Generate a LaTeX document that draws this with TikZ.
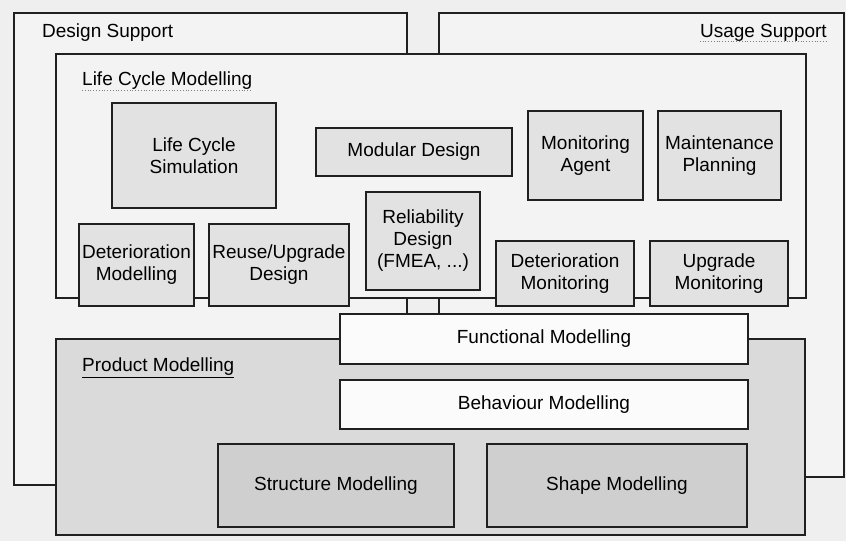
\documentclass[tikz,border=0pt]{standalone}
\usepackage{fontspec}
\setmainfont{Liberation Sans}
\definecolor{pagebg}{HTML}{EFEFEF}
\definecolor{outerbg}{HTML}{F3F3F3}
\definecolor{innerbox}{HTML}{E2E2E2}
\definecolor{prodbg}{HTML}{DADADA}
\definecolor{darkbox}{HTML}{CFCFCF}
\definecolor{whitebox}{HTML}{FBFBFB}
\definecolor{edge}{HTML}{202020}
\begin{document}
\begin{tikzpicture}[x=1pt,y=-1pt,
  every node/.style={font=\fontsize{19}{22}\selectfont, text=black},
  bx/.style={draw=edge, line width=1.3pt, inner sep=0pt, align=center},
  outer/.style={bx, fill=outerbg},
  inbox/.style={bx, fill=innerbox},
  prod/.style={bx, fill=prodbg},
  dbox/.style={bx, fill=darkbox},
  wbox/.style={bx, fill=whitebox},
  lbl/.style={inner sep=0pt},
  uline/.style={draw=gray, line width=0.8pt, dotted}
]
\useasboundingbox (0,0) rectangle (846,541);
\fill[pagebg] (0,0) rectangle (846,541);

% outer frames
\node[outer, minimum width=393pt, minimum height=472pt] (ds) at (210.5,249) {};
\node[outer, minimum width=405pt, minimum height=464pt] (us) at (641.5,245) {};
\node[lbl, anchor=west] (dsl) at (42,33) {Design Support};
\node[lbl, anchor=east] (usl) at (827,33) {Usage Support};
\draw[uline] ([yshift=-4pt]usl.base west) -- ([yshift=-4pt]usl.base east);

% life cycle modelling
\node[outer, minimum width=750pt, minimum height=244pt] (lcm) at (431,176) {};
\node[lbl, anchor=west] (lcml) at (82,81) {Life Cycle Modelling};
\draw[uline] ([yshift=-4pt]lcml.base west) -- ([yshift=-4pt]lcml.base east);

\node[inbox, minimum width=164pt, minimum height=105pt] (lcs) at (194,155.5) {Life Cycle\\Simulation};
\node[inbox, minimum width=196pt, minimum height=48pt] (md) at (414,152) {Modular Design};
\node[inbox, minimum width=114pt, minimum height=98pt] (rd) at (423,241) {Reliability\\Design\\(FMEA, ...)};
\node[inbox, minimum width=115pt, minimum height=82pt] (dm) at (136.5,265) {Deterioration\\Modelling};
\node[inbox, minimum width=140pt, minimum height=82pt] (rud) at (279,265) {Reuse/Upgrade\\Design};
\node[inbox, minimum width=115pt, minimum height=89pt] (ma) at (585.5,155.5) {Monitoring\\Agent};
\node[inbox, minimum width=123pt, minimum height=89pt] (mp) at (719.5,155.5) {Maintenance\\Planning};
\node[inbox, minimum width=138pt, minimum height=65pt] (dmon) at (565,273.5) {Deterioration\\Monitoring};
\node[inbox, minimum width=138pt, minimum height=65pt] (um) at (719,273.5) {Upgrade\\Monitoring};

% product modelling
\node[prod, minimum width=749pt, minimum height=196pt] (pm) at (430.5,437) {};
\node[lbl, anchor=west] (pml) at (82,368) {\underline{Product Modelling}};
\node[wbox, minimum width=408pt, minimum height=50pt] (fm) at (544,339) {Functional Modelling};
\node[wbox, minimum width=408pt, minimum height=49pt] (bm) at (544,404.5) {Behaviour Modelling};
\node[dbox, minimum width=236pt, minimum height=83pt] (sm) at (336,485.5) {Structure Modelling};
\node[dbox, minimum width=260pt, minimum height=83pt] (shm) at (617,485.5) {Shape Modelling};
\end{tikzpicture}
\end{document}
